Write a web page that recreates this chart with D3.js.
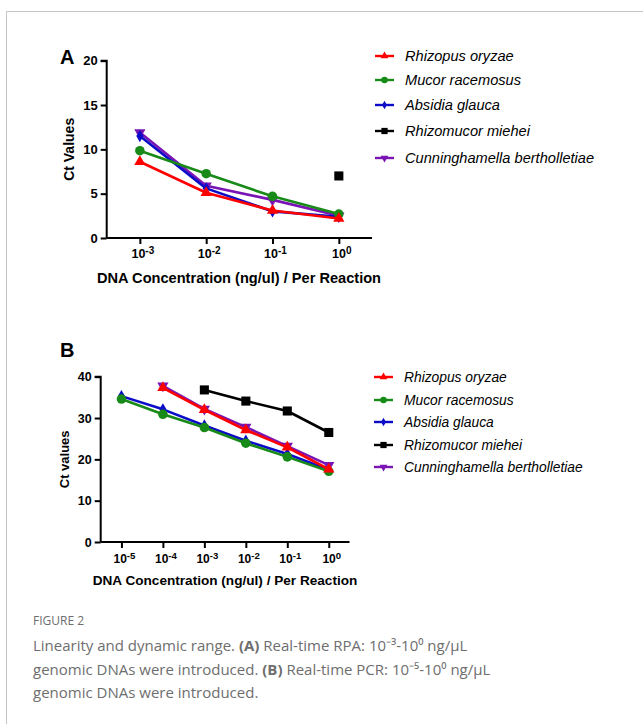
<!DOCTYPE html>
<html>
<head>
<meta charset="utf-8">
<script src="https://cdn.jsdelivr.net/npm/d3@7"></script>
<style>
  body { margin: 0; background: #fff; }
  svg { display: block; }
  .tick text, .axis-title, .xlab { font-family: "Liberation Sans", Arial, sans-serif; font-weight: bold; fill: #000; }
  .legend text { font-family: "Liberation Sans", Arial, sans-serif; font-style: italic; fill: #000; }
</style>
</head>
<body>
<div id="chart"></div>
<script>
'use strict';

// series names and colours
const seriesNames = ["Rhizopus oryzae", "Mucor racemosus", "Absidia glauca", "Rhizomucor miehei", "Cunninghamella bertholletiae"];
const seriesColors = ["#ff0000", "#188a18", "#0c0cc8", "#000000", "#7a14b4"];
const seriesSymbols = ["triUp", "circle", "diamond", "square", "triDown"];

// panel A: real-time RPA
const concA = [1e-3, 1e-2, 1e-1, 1];
const rhizopusA = [8.6, 5.1, 3.1, 2.2];
const mucorA = [9.85, 7.25, 4.7, 2.7];
const absidiaA = [11.5, 5.6, 3.0, 2.4];
const rhizomucorA = [null, null, null, 7.0];
const cunninghamellaA = [11.9, 5.9, 4.3, 2.5];
const yTicksA = [0, 5, 10, 15, 20];

// panel B: real-time PCR
const concB = [1e-5, 1e-4, 1e-3, 1e-2, 1e-1, 1];
const rhizopusB = [null, 37.3, 32.0, 27.1, 22.9, 17.6];
const mucorB = [34.6, 30.9, 27.7, 23.9, 20.6, 17.1];
const absidiaB = [35.3, 32.1, 28.2, 24.5, 21.3, 17.5];
const rhizomucorB = [null, null, 36.8, 34.1, 31.7, 26.5];
const cunninghamellaB = [null, 37.8, 32.2, 27.8, 23.2, 18.6];
const yTicksB = [0, 10, 20, 30, 40];

const W = 643, H = 724;

const svg = d3.select("#chart").append("svg")
  .attr("width", W)
  .attr("height", H);

svg.append("rect").attr("width", W).attr("height", H).attr("fill", "#fff");

// frame of the figure box
svg.append("path")
  .attr("d", `M6.5,${H} V11.5 H${W}`)
  .attr("fill", "none")
  .attr("stroke", "#c4c4c4")
  .attr("stroke-width", 1);

function symbolPath(kind, size) {
  if (kind === "circle") return d3.symbol(d3.symbolCircle, size * 1.3)();
  if (kind === "square") return d3.symbol(d3.symbolSquare, size * 1.5)();
  if (kind === "diamond") return d3.symbol(d3.symbolDiamond, size * 0.8)();
  return d3.symbol(d3.symbolTriangle, size)();
}

function drawPanel(opt) {
  const g = svg.append("g");

  const x = d3.scaleLog().domain(opt.xDomain).range([opt.left, opt.right]);
  const y = d3.scaleLinear().domain([0, opt.yMax]).range([opt.bottom, opt.top]);

  // y axis
  const yAxis = g.append("g")
    .attr("transform", `translate(${opt.left},0)`)
    .call(d3.axisLeft(y).tickValues(opt.yTicks).tickSize(6).tickPadding(3));
  yAxis.select(".domain").attr("stroke-width", 2).attr("d", `M-6,${opt.top}H0V${opt.bottom}`);
  yAxis.selectAll(".tick line").attr("stroke-width", 2);
  yAxis.selectAll(".tick text").style("font-size", opt.yTickFont + "px").attr("font-family", null);

  // x axis, labels as 10 with a raised exponent
  const xAxis = g.append("g")
    .attr("transform", `translate(0,${opt.bottom})`)
    .call(d3.axisBottom(x).tickValues(opt.conc).tickSize(6).tickFormat(""));
  xAxis.select(".domain").attr("stroke-width", 2).attr("d", `M${opt.left},0H${opt.right}`);
  xAxis.selectAll(".tick line").attr("stroke-width", 2);
  xAxis.selectAll(".tick text").remove();

  const xl = g.selectAll(null)
    .data(opt.conc)
    .enter().append("text")
    .attr("class", "xlab")
    .attr("x", d => x(d) + 3)
    .attr("y", opt.bottom + opt.xTickY)
    .attr("text-anchor", "middle")
    .style("font-size", opt.xTickFont + "px");
  xl.append("tspan").text("10");
  xl.append("tspan").attr("dy", "-0.45em").style("font-size", (opt.xTickFont * 0.8) + "px")
    .text(d => String(Math.round(Math.log10(d))));

  // axis titles
  g.append("text").attr("class", "axis-title")
    .attr("x", opt.xTitleX).attr("y", opt.xTitleY)
    .attr("text-anchor", "middle")
    .style("font-size", opt.titleFont + "px")
    .text("DNA Concentration (ng/ul) / Per Reaction");

  g.append("text").attr("class", "axis-title")
    .attr("transform", `translate(${opt.yTitleX},${(opt.top + opt.bottom) / 2}) rotate(-90)`)
    .attr("text-anchor", "middle")
    .style("font-size", opt.yTitleFont + "px")
    .text(opt.yTitle);

  // panel letter
  g.append("text").attr("class", "axis-title")
    .attr("x", opt.letterX).attr("y", opt.letterY)
    .style("font-size", "20px")
    .text(opt.letter);

  // series, drawn back to front
  const order = [3, 4, 2, 1, 0];
  order.forEach(function(si) {
    const pts = opt.conc.map((c, i) => ({c: c, v: opt.values[si][i]})).filter(p => p.v !== null);
    const line = d3.line().x(p => x(p.c)).y(p => y(p.v));
    g.append("path")
      .datum(pts)
      .attr("d", line)
      .attr("fill", "none")
      .attr("stroke", seriesColors[si])
      .attr("stroke-width", 2.6)
      .attr("stroke-linejoin", "round");
    g.selectAll(null)
      .data(pts)
      .enter().append("path")
      .attr("d", symbolPath(seriesSymbols[si], 55))
      .attr("transform", p => `translate(${x(p.c)},${y(p.v)})` + (seriesSymbols[si] === "triDown" ? " rotate(180)" : ""))
      .attr("fill", seriesColors[si]);
  });

  // legend
  const leg = g.append("g").attr("class", "legend");
  seriesNames.forEach(function(name, i) {
    const ly = opt.legendY[i];
    leg.append("line")
      .attr("x1", opt.legendX).attr("x2", opt.legendX + 19)
      .attr("y1", ly).attr("y2", ly)
      .attr("stroke", seriesColors[i]).attr("stroke-width", 2.4);
    leg.append("path")
      .attr("d", symbolPath(seriesSymbols[i], 26))
      .attr("transform", `translate(${opt.legendX + 9.5},${ly})` + (seriesSymbols[i] === "triDown" ? " rotate(180)" : ""))
      .attr("fill", seriesColors[i]);
    leg.append("text")
      .attr("x", opt.legendX + 30).attr("y", ly)
      .attr("dy", "0.35em")
      .style("font-size", opt.legendFont + "px")
      .text(name);
  });
}

drawPanel({
  letter: "A", letterX: 60, letterY: 64,
  conc: concA,
  values: [rhizopusA, mucorA, absidiaA, rhizomucorA, cunninghamellaA],
  xDomain: [Math.pow(10, -3.5), Math.pow(10, 0.5)],
  yMax: 20, yTicks: yTicksA,
  left: 106.7, right: 372, top: 60.7, bottom: 238,
  yTickFont: 13, xTickFont: 12.5, xTickY: 20,
  titleFont: 14.6, yTitleFont: 14, yTitle: "Ct Values",
  xTitleX: 239, xTitleY: 283, yTitleX: 74,
  legendX: 375, legendY: [56, 80, 105, 131, 158], legendFont: 14.6
});

drawPanel({
  letter: "B", letterX: 60, letterY: 357,
  conc: concB,
  values: [rhizopusB, mucorB, absidiaB, rhizomucorB, cunninghamellaB],
  xDomain: [Math.pow(10, -5.5), Math.pow(10, 0.5)],
  yMax: 40, yTicks: yTicksB,
  left: 100.7, right: 349.5, top: 376.7, bottom: 542,
  yTickFont: 12.5, xTickFont: 12, xTickY: 21,
  titleFont: 13.6, yTitleFont: 13, yTitle: "Ct values",
  xTitleX: 225, xTitleY: 585, yTitleX: 69,
  legendX: 374, legendY: [377, 400, 422, 445, 467], legendFont: 13.8
});

// caption
const cap = svg.append("g").attr("font-family", "'Open Sans', sans-serif").attr("fill", "#6e6e6e");
cap.append("text").attr("x", 33).attr("y", 625).style("font-size", "12px").text("FIGURE 2");
const capLines = [
  [["Linearity and dynamic range. ", false], ["(A)", true], [" Real-time RPA: 10\u207B\u00B3-10\u2070 ng/\u03BCL", false]],
  [["genomic DNAs were introduced. ", false], ["(B)", true], [" Real-time PCR: 10\u207B\u2075-10\u2070 ng/\u03BCL", false]],
  [["genomic DNAs were introduced.", false]]
];
capLines.forEach(function(parts, i) {
  const t = cap.append("text").attr("x", 33).attr("y", 651 + i * 23.5).style("font-size", "15px");
  parts.forEach(function(p) {
    t.append("tspan").attr("font-weight", p[1] ? "bold" : null).text(p[0]);
  });
});
</script>
</body>
</html>
